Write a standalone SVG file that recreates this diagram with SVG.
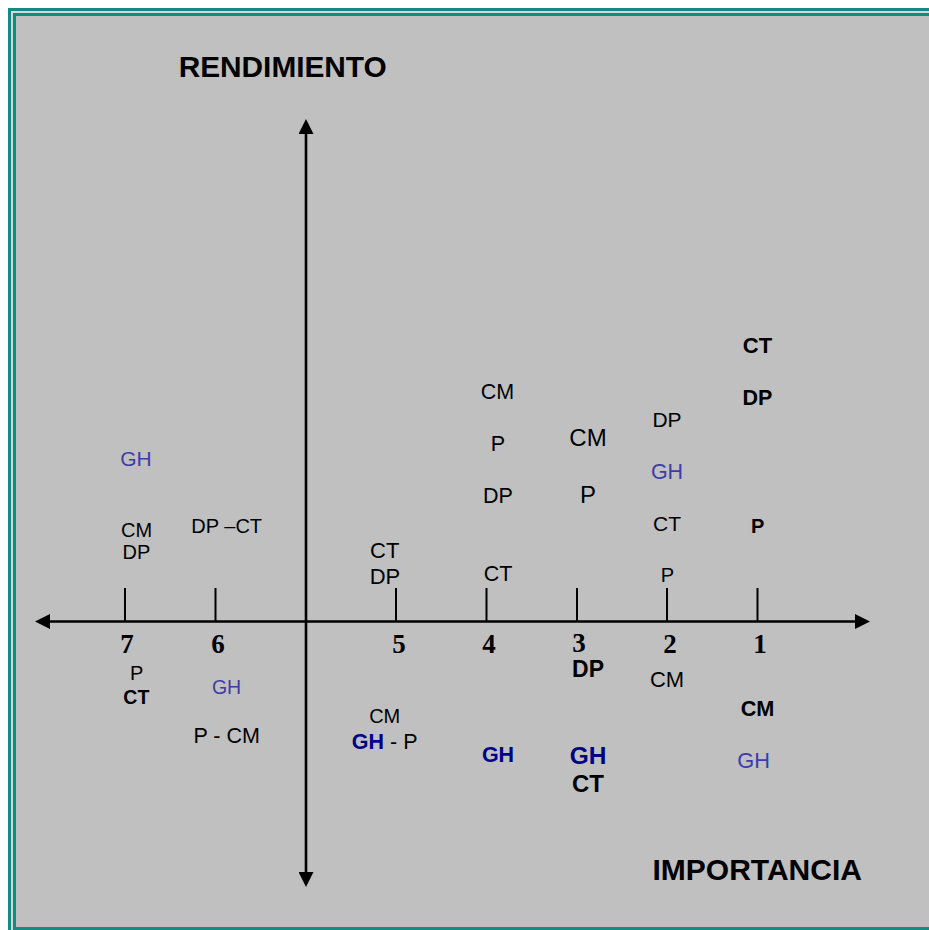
<svg xmlns="http://www.w3.org/2000/svg" width="929" height="930" viewBox="0 0 929 930">
<style>
.t{font-family:"Liberation Sans",Arial,sans-serif;text-anchor:middle;fill:#000}
.b{font-weight:bold}
.blue{fill:#3d3daa}
.navy{fill:#000088}
.num{font-family:"Liberation Serif","Times New Roman",serif;font-weight:bold;font-size:27px;text-anchor:middle;fill:#000}
.ax{stroke:#000;stroke-width:2.6;fill:none}
.tick{stroke:#000;stroke-width:2;fill:none}
</style>
<defs>
<marker id="ah" viewBox="0 0 15 15" refX="0" refY="7.5" markerWidth="15" markerHeight="15" markerUnits="userSpaceOnUse" orient="auto-start-reverse">
<path d="M0,0 L15,7.5 L0,15 z" fill="#000"/>
</marker>
</defs>
<rect x="0" y="0" width="929" height="930" fill="#fff"/>
<g id="frame">
<rect x="8" y="8" width="1000" height="1000" fill="#138a82"/>
<rect x="11" y="11" width="1000" height="1000" fill="#d2d8d6"/>
<rect x="13" y="13" width="1000" height="917" fill="#138a82"/>
<rect x="16" y="16" width="1000" height="911" fill="#c0c0c0"/>
</g>
<g id="connectors">
<line class="ax" x1="50" y1="621.5" x2="855" y2="621.5" marker-start="url(#ah)" marker-end="url(#ah)"/>
<line class="ax" x1="306" y1="134" x2="306" y2="872" marker-start="url(#ah)" marker-end="url(#ah)"/>
<line class="tick" x1="125" y1="588" x2="125" y2="621"/>
<line class="tick" x1="215.5" y1="588" x2="215.5" y2="621"/>
<line class="tick" x1="396" y1="588" x2="396" y2="621"/>
<line class="tick" x1="486.5" y1="588" x2="486.5" y2="621"/>
<line class="tick" x1="577" y1="588" x2="577" y2="621"/>
<line class="tick" x1="667" y1="588" x2="667" y2="621"/>
<line class="tick" x1="757.5" y1="588" x2="757.5" y2="621"/>
</g>
<g id="axis-titles">
<text class="t b" x="282.7" y="76.7" font-size="29.8">RENDIMIENTO</text>
<text class="t b" x="757.2" y="880" font-size="30">IMPORTANCIA</text>
</g>
<g id="axis-numbers">
<text class="num" x="127" y="653">7</text>
<text class="num" x="218" y="653">6</text>
<text class="num" x="399" y="653">5</text>
<text class="num" x="489" y="653">4</text>
<text class="num" x="579" y="652">3</text>
<text class="num" x="670" y="653">2</text>
<text class="num" x="760" y="653">1</text>
</g>
<g id="col7">
<text class="t blue" x="136" y="466" font-size="21">GH</text>
<text class="t" x="136.5" y="536.7" font-size="20">CM</text>
<text class="t" x="136.5" y="559.3" font-size="20">DP</text>
<text class="t" x="136.7" y="680" font-size="20">P</text>
<text class="t b" x="136.3" y="704" font-size="19.5">CT</text>
</g>
<g id="col6">
<text class="t" x="226.7" y="533.3" font-size="20">DP –CT</text>
<text class="t blue" x="226.5" y="694" font-size="19.5">GH</text>
<text class="t" x="226.7" y="742.7" font-size="21.5">P - CM</text>
</g>
<g id="col5">
<text class="t" x="384.7" y="558.3" font-size="22">CT</text>
<text class="t" x="385" y="584.3" font-size="22">DP</text>
<text class="t" x="384.7" y="723.3" font-size="20">CM</text>
<text class="t" x="384.7" y="749" font-size="21.5"><tspan class="b navy">GH</tspan> - P</text>
</g>
<g id="col4">
<text class="t" x="497.5" y="399" font-size="21.5">CM</text>
<text class="t" x="498" y="450.7" font-size="21.5">P</text>
<text class="t" x="498" y="502.7" font-size="21.5">DP</text>
<text class="t" x="498" y="580.7" font-size="21.5">CT</text>
<text class="t b navy" x="498" y="761.7" font-size="21.5">GH</text>
</g>
<g id="col3">
<text class="t" x="588" y="446" font-size="24">CM</text>
<text class="t" x="588" y="503.3" font-size="24">P</text>
<text class="t b" x="588" y="677" font-size="23">DP</text>
<text class="t b navy" x="588" y="764" font-size="24.5">GH</text>
<text class="t b" x="588" y="792.3" font-size="24">CT</text>
</g>
<g id="col2">
<text class="t" x="667" y="426.7" font-size="21">DP</text>
<text class="t blue" x="667" y="479" font-size="21.5">GH</text>
<text class="t" x="667" y="530.7" font-size="21">CT</text>
<text class="t" x="667.3" y="582.3" font-size="20">P</text>
<text class="t" x="667" y="686.7" font-size="22">CM</text>
</g>
<g id="col1">
<text class="t b" x="757.5" y="353.3" font-size="22">CT</text>
<text class="t b" x="757.5" y="405" font-size="21.5">DP</text>
<text class="t b" x="757.7" y="533.3" font-size="20">P</text>
<text class="t b" x="757.5" y="716" font-size="21.7">CM</text>
<text class="t blue" x="753.7" y="767.7" font-size="21.8">GH</text>
</g>
</svg>
